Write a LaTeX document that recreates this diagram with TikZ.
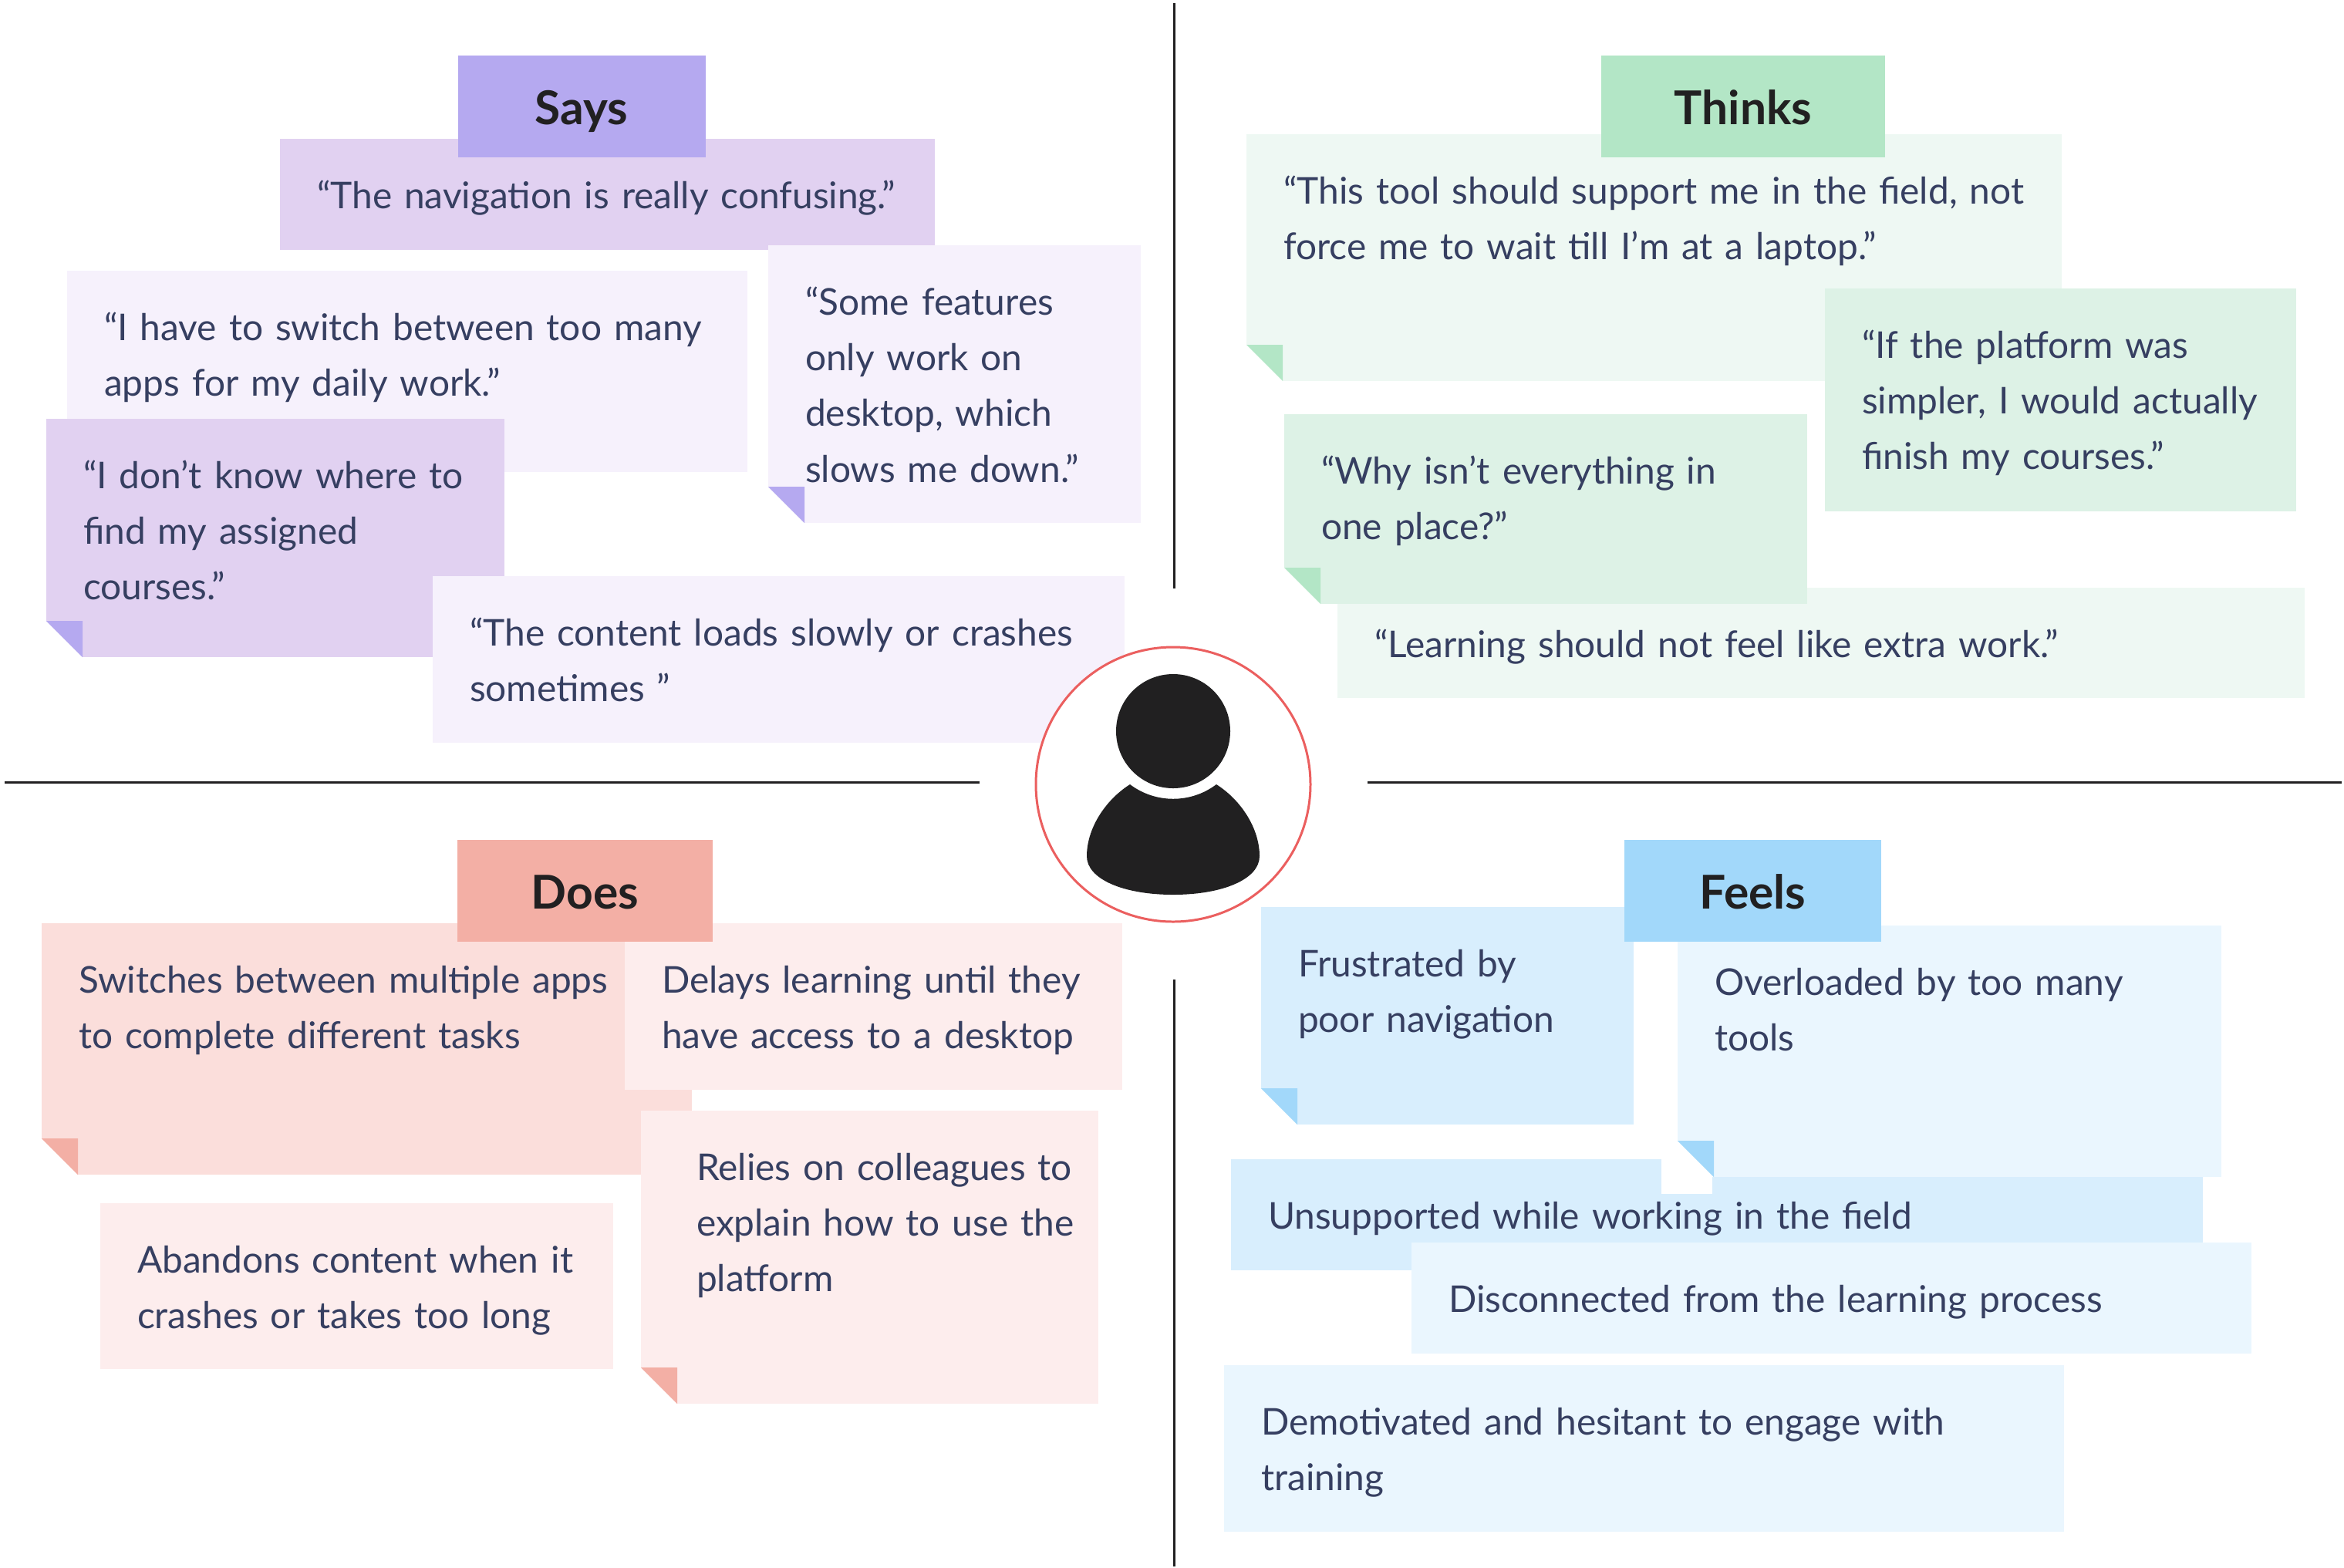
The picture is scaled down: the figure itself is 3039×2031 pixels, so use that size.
\documentclass[tikz,border=0pt]{standalone}
\usepackage{fontspec}
\setmainfont{Lato}
\usepackage{tikz}
\usetikzlibrary{calc}
\usepackage{xcolor}
\definecolor{saytag}{HTML}{B5A9F0}
\definecolor{saydark}{HTML}{E1D1F1}
\definecolor{saylight}{HTML}{F6F1FC}
\definecolor{thinktag}{HTML}{B3E6C6}
\definecolor{thinkdark}{HTML}{DDF2E6}
\definecolor{thinklight}{HTML}{EEF8F3}
\definecolor{doestag}{HTML}{F3AFA5}
\definecolor{doesdark}{HTML}{FBDEDB}
\definecolor{doeslight}{HTML}{FDEDED}
\definecolor{feeltag}{HTML}{A2D8FA}
\definecolor{feeldark}{HTML}{D8EEFD}
\definecolor{feellight}{HTML}{EAF6FE}
\definecolor{notetext}{HTML}{363F61}
\definecolor{ringred}{HTML}{EB5F5F}
\definecolor{iconblack}{HTML}{212021}
\tikzset{
  notebox/.style 2 args={anchor=north west, inner xsep=24*0.01cm, inner ysep=0pt, outer sep=0pt,
    text width=(#1-48)*0.01cm, text height=90*0.01cm, text depth=(#2-90)*0.01cm, align=left,
    execute at begin node={\leftskip=0.24cm},
    text=notetext, font=\fontsize{13.6}{20.6}\selectfont},
  tagbox/.style={inner xsep=0pt, inner ysep=0pt, outer sep=0pt, text height=89*0.01cm, text depth=43*0.01cm,
    minimum width=#1*0.01cm, text=iconblack, font=\fontsize{17.2}{20}\selectfont\bfseries},
  axisline/.style={draw=iconblack, line width=0.85pt},
}
% folded lower left corner of a note
\newcommand{\NoteFold}[2]{
  \fill[white] ($(#1.south west)+(0,-47)$) -- (#1.south west) -- ($(#1.south west)+(47,0)$) -- cycle;
  \fill[#2] ($(#1.south west)+(0,-47)$) -- ($(#1.south west)+(47,-47)$) -- ($(#1.south west)+(47,0)$) -- cycle;
}

\begin{document}
\begin{tikzpicture}[x=0.01cm, y=-0.01cm]
  \fill[white] (0,0) rectangle (3039,2031);

  % Axes
  \coordinate (vtop) at (1522,4);
  \coordinate (vtopin) at (1522,763);
  \coordinate (vbotin) at (1522,1270);
  \coordinate (vbot) at (1522,2031);
  \coordinate (hleft) at (6,1014);
  \coordinate (hleftin) at (1270,1014);
  \coordinate (hrightin) at (1773,1014);
  \coordinate (hright) at (3036,1014);
  \draw[axisline] (vtop) -- (vtopin);
  \draw[axisline] (vbotin) -- (vbot);
  \draw[axisline] (hleft) -- (hleftin);
  \draw[axisline] (hrightin) -- (hright);

  % Says
  \node[notebox={849}{144}, fill=saydark] (say1) at (363,180) {“The navigation is really confusing.”};
  \node[tagbox=321, fill=saytag] (says) at (754,138) {Says};
  \node[notebox={882}{261}, fill=saylight] (say2) at (87,351) {“I have to switch between too many\\apps for my daily work.”};
  \node[notebox={483}{360}, fill=saylight] (say3) at (996,318) {“Some features\\only work on\\desktop, which\\slows me down.”};
  \NoteFold{say3}{saytag}
  \node[notebox={594}{309}, fill=saydark] (say4) at (60,543) {“I don’t know where to\\find my assigned\\courses.”};
  \NoteFold{say4}{saytag}
  \node[notebox={897}{216}, fill=saylight] (say5) at (561,747) {“The content loads slowly or crashes\\sometimes ”};

  % Thinks
  \node[notebox={1057}{320}, fill=thinklight] (think1) at (1616,174) {“This tool should support me in the field, not\\force me to wait till I’m at a laptop.”};
  \NoteFold{think1}{thinktag}
  \node[tagbox=368, fill=thinktag] (thinks) at (2260,138) {Thinks};
  \node[notebox={611}{289}, fill=thinkdark] (think2) at (2366,374) {“If the platform was\\simpler, I would actually\\finish my courses.”};
  \node[notebox={1254}{143}, fill=thinklight] (think4) at (1734,762) {“Learning should not feel like extra work.”};
  \node[notebox={678}{246}, fill=thinkdark] (think3) at (1665,537) {“Why isn’t everything in\\one place?”};
  \NoteFold{think3}{thinktag}

  % Does
  \node[notebox={843}{326}, fill=doesdark] (does1) at (54,1197) {Switches between multiple apps\\to complete different tasks};
  \NoteFold{does1}{doestag}
  \node[notebox={645}{216}, fill=doeslight] (does2) at (810,1197) {Delays learning until they\\have access to a desktop};
  \node[tagbox=331, fill=doestag] (does) at (758.5,1155) {Does};
  \node[notebox={665}{215}, fill=doeslight] (does3) at (130,1560) {Abandons content when it\\crashes or takes too long};
  \node[notebox={593}{380}, fill=doeslight, execute at begin node={\leftskip=0.48cm}] (does4) at (831,1440) {Relies on colleagues to\\explain how to use the\\platform};
  \NoteFold{does4}{doestag}

  % Feels
  \node[notebox={1260}{144}, fill=feeldark] (feel3) at (1596,1503) {Unsupported while working in the field};
  \fill[white] (2154,1503) rectangle (2220,1548);
  \node[notebox={483}{282}, fill=feeldark] (feel1) at (1635,1176) {Frustrated by\\poor navigation};
  \NoteFold{feel1}{feeltag}
  \node[notebox={705}{326}, fill=feellight] (feel2) at (2175,1200) {Overloaded by too many\\tools};
  \NoteFold{feel2}{feeltag}
  \node[tagbox=333, fill=feeltag] (feels) at (2272.5,1155) {Feels};
  \node[notebox={1089}{144}, fill=feellight] (feel4) at (1830,1611) {Disconnected from the learning process};
  \node[notebox={1089}{216}, fill=feellight] (feel5) at (1587,1770) {Demotivated and hesitant to engage with\\training};

  % Person in the middle
  \node[circle, draw=ringred, fill=white, line width=0.85pt, minimum size=356*0.01cm, inner sep=0pt] (avatar) at (1521,1017) {};
  \node[circle, fill=iconblack, minimum size=148*0.01cm, inner sep=0pt] (head) at (1521,948) {};
  \fill[iconblack] (1465,1017) .. controls (1498,1042) and (1544,1042) .. (1577,1017)
    .. controls (1610,1038) and (1633,1075) .. (1633,1110)
    .. controls (1633,1140) and (1585,1160) .. (1521,1160)
    .. controls (1457,1160) and (1409,1140) .. (1409,1110)
    .. controls (1409,1075) and (1432,1038) .. (1465,1017) -- cycle;
\end{tikzpicture}
\end{document}
